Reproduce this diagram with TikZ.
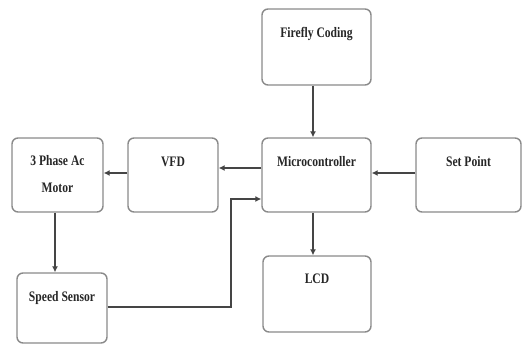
\documentclass[tikz,border=0pt]{standalone}
\usepackage{fontspec}
\setmainfont{Liberation Serif}[FakeStretch=0.8]
\usetikzlibrary{arrows.meta}
\definecolor{boxgray}{HTML}{8A8A8A}
\definecolor{linegray}{HTML}{454545}
\tikzset{
  blk/.style={draw=boxgray, line width=1.4pt, rounded corners=6pt, fill=white, inner sep=0pt},
  lbl/.style={font=\fontsize{14.5}{16}\selectfont\bfseries, text=black!85, inner sep=0pt, anchor=base},
  arr/.style={draw=linegray, line width=1.1pt, -{Latex[length=6pt,width=6pt]}}
}
\begin{document}
\begin{tikzpicture}[x=1pt,y=1pt]
\useasboundingbox (0,0) rectangle (524,345);
% boxes
\node[blk, minimum width=109pt, minimum height=76pt] (fire)  at (316.5,298) {};
\node[blk, minimum width=109pt, minimum height=74pt] (micro) at (316.5,170) {};
\node[blk, minimum width=105pt, minimum height=74pt] (setp)  at (468.5,170) {};
\node[blk, minimum width=90pt,  minimum height=74pt] (vfd)   at (173,170) {};
\node[blk, minimum width=91pt,  minimum height=74pt] (motor) at (57.5,170) {};
\node[blk, minimum width=90pt,  minimum height=70pt] (speed) at (62,37) {};
\node[blk, minimum width=108pt, minimum height=76pt] (lcd)   at (317,51) {};
% texts
\node[lbl] (fireT)   at ([yshift=-29pt]fire.north)  {Firefly Coding};
\node[lbl] (microT)  at ([yshift=-29pt]micro.north) {Microcontroller};
\node[lbl] (setpT)   at ([yshift=-29pt]setp.north)  {Set Point};
\node[lbl] (vfdT)    at ([yshift=-29pt]vfd.north)   {VFD};
\node[lbl] (motorT1) at ([yshift=-28pt]motor.north) {3 Phase Ac};
\node[lbl] (motorT2) at ([yshift=-55pt]motor.north) {Motor};
\node[lbl] (speedT)  at ([yshift=-29pt]speed.north) {Speed Sensor};
\node[lbl] (lcdT)    at ([yshift=-28pt]lcd.north)   {LCD};
% connectors
\draw[arr] ([xshift=-3.5pt]fire.south) -- ([xshift=-3.5pt]micro.north);
\draw[arr] ([yshift=7pt]micro.west) -- ([yshift=7pt]vfd.east);
\draw[arr] ([yshift=2pt]vfd.west) -- ([yshift=2pt]motor.east);
\draw[arr] ([yshift=2pt]setp.west) -- ([yshift=2pt]micro.east);
\draw[arr] ([xshift=-3.5pt]micro.south) -- ([xshift=-3.5pt]micro.south |- lcd.north);
\draw[arr] ([xshift=-2.5pt]motor.south) -- ([xshift=-2.5pt]motor.south |- speed.north);
\coordinate (bend) at (231,146);
\draw[arr] ([yshift=1pt]speed.east) -| (bend) -- (bend -| micro.west);
\end{tikzpicture}
\end{document}
